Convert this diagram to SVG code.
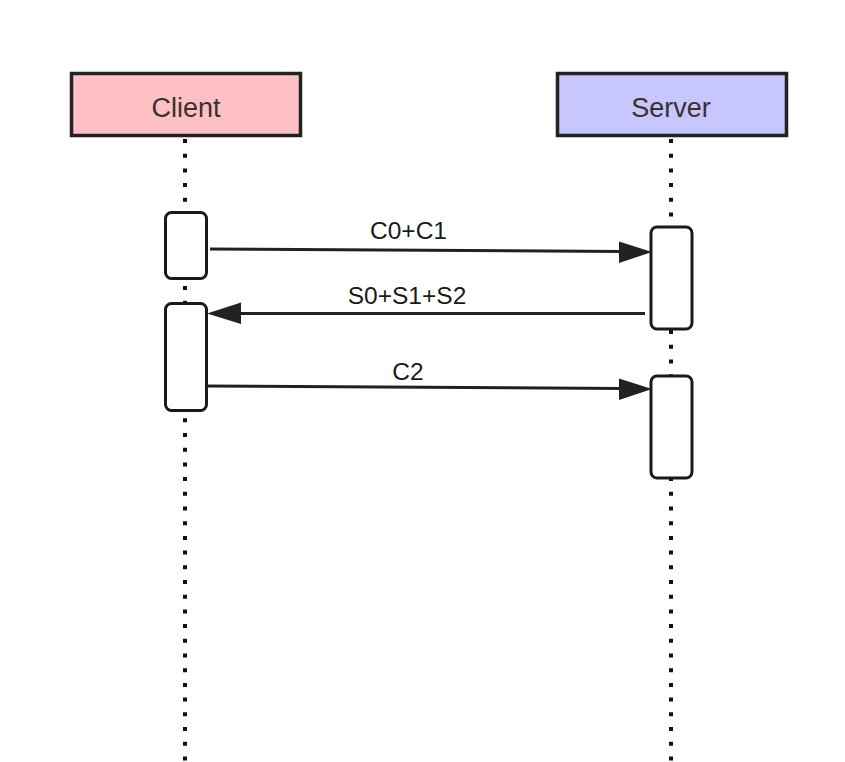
<svg xmlns="http://www.w3.org/2000/svg" width="845" height="762" viewBox="0 0 845 762">
  <defs>
    <style>
      .head { stroke: #222; stroke-width: 3.5; }
      .headtxt { font-family: "Liberation Sans", Arial, sans-serif; font-size: 27px; fill: #3a3030; text-anchor: middle; }
      .life { stroke: #111; stroke-width: 4; stroke-dasharray: 4 10.7; fill: none; }
      .act { fill: #fff; stroke: #1a1a1a; stroke-width: 3; }
      .msg { stroke: #222; stroke-width: 3; fill: none; }
      .lbl { font-family: "Liberation Sans", Arial, sans-serif; font-size: 24.5px; fill: #1a1a1a; text-anchor: middle; }
      .ah { fill: #222; }
    </style>
  </defs>
  <rect width="845" height="762" fill="#ffffff"/>

  <g id="lifelines">
    <line class="life" x1="185" y1="139" x2="185" y2="762"/>
    <line class="life" x1="671" y1="139" x2="671" y2="762"/>
  </g>

  <g id="client">
    <rect class="head" x="71.5" y="73.5" width="229" height="62" fill="#ffc0c4"/>
    <text class="headtxt" x="186" y="117">Client</text>
  </g>
  <g id="server">
    <rect class="head" x="557.5" y="73.5" width="229" height="62" fill="#c8c6ff"/>
    <text class="headtxt" x="671" y="117">Server</text>
  </g>

  <g id="client-act-1"><rect class="act" x="165.5" y="212.5" width="41" height="66" rx="6"/></g>
  <g id="client-act-2"><rect class="act" x="165.5" y="303.5" width="41" height="107" rx="6"/></g>
  <g id="server-act-1"><rect class="act" x="651" y="227" width="41" height="102" rx="6"/></g>
  <g id="server-act-2"><rect class="act" x="651" y="376" width="41" height="102" rx="6"/></g>

  <g id="connectors">
    <line class="msg" x1="210" y1="249" x2="622" y2="251.5"/>
    <polygon class="ah" points="652,252 619,241.5 619,263"/>
    <text class="lbl" x="408.5" y="239">C0+C1</text>

    <line class="msg" x1="645" y1="313.5" x2="238" y2="313.5"/>
    <polygon class="ah" points="207,313.5 241,302.5 241,324"/>
    <text class="lbl" x="407" y="304">S0+S1+S2</text>

    <line class="msg" x1="207" y1="386" x2="622" y2="388.5"/>
    <polygon class="ah" points="652,389 619,378.5 619,400"/>
    <text class="lbl" x="408" y="380">C2</text>
  </g>
</svg>
